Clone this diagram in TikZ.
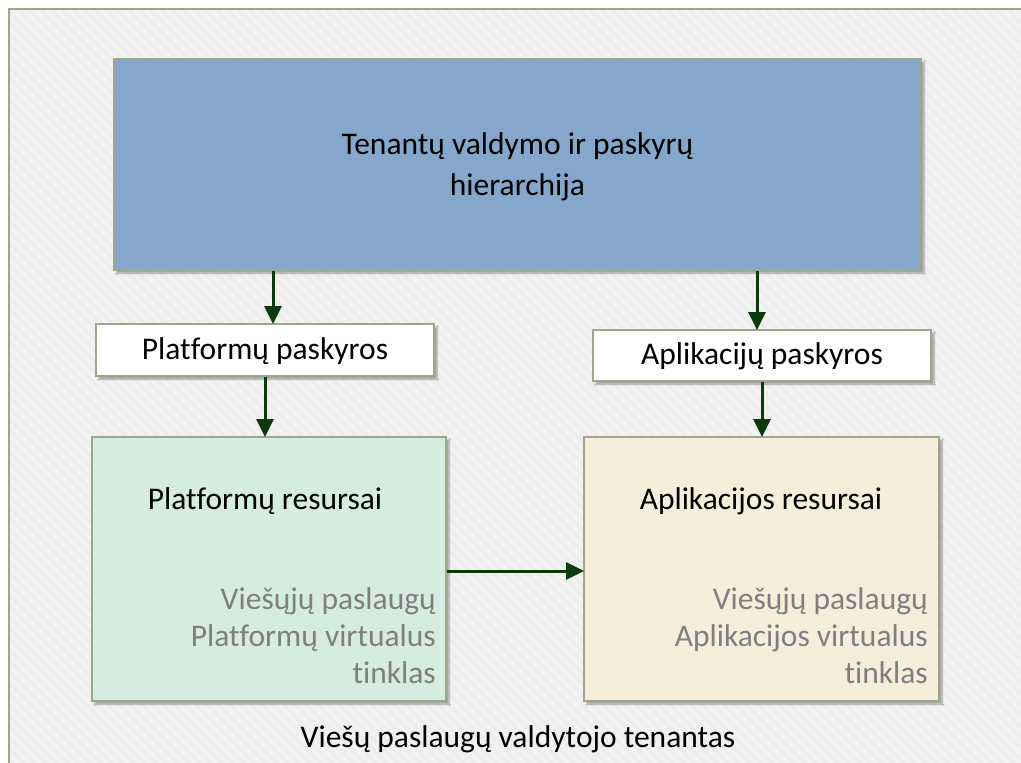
\documentclass[tikz,border=0pt]{standalone}
\usepackage{fontspec}
\setmainfont{Carlito}[Ligatures={NoCommon}]
\usetikzlibrary{arrows.meta,shadows.blur}

\definecolor{frameline}{HTML}{9EA78A}
\definecolor{pagebg}{HTML}{EDEDED}
\definecolor{stripe}{HTML}{F2F2F2}
\definecolor{bluefill}{HTML}{85A7CB}
\definecolor{greenfill}{HTML}{D5ECE1}
\definecolor{creamfill}{HTML}{F6EEDA}
\definecolor{arrowgreen}{HTML}{0B3B0B}
\definecolor{softgray}{HTML}{7F7F7F}

\tikzset{
  panel/.style={draw=frameline, line width=2pt, rectangle,
    blur shadow={shadow xshift=3pt, shadow yshift=-3pt,
      shadow blur steps=6, shadow opacity=35}},
  label text/.style={font=\fontsize{31.5}{38}\selectfont, text=black, inner sep=0pt},
  note text/.style={font=\fontsize{31.5}{37}\selectfont, text=softgray,
    align=right, inner sep=0pt, anchor=north east},
  flow/.style={draw=arrowgreen, line width=3pt,
    -{Triangle[length=18pt,width=17pt]}, shorten >=-1pt},
}

\begin{document}
\begin{tikzpicture}[x=1pt,y=-1pt]
  \useasboundingbox (0,0) rectangle (1021,763);
  \clip (0,0) rectangle (1021,763);

  % tenant frame running off the page, with its faint diagonal texture
  \fill[white] (0,0) rectangle (1021,763);
  \fill[pagebg] (9,9) rectangle (1040,790);
  \begin{scope}
    \clip (9,9) rectangle (1040,790);
    \foreach \k in {-800,-789,...,1040}
      \draw[stripe, line width=4pt] (\k,0) -- (\k+800,800);
  \end{scope}
  \draw[draw=frameline, line width=2pt] (9,9) rectangle (1040,790);

  % boxes
  \node[panel, fill=bluefill, minimum width=807pt, minimum height=211pt]
    (hier) at (517.5,164.5) {};
  \node[label text, align=center, font=\fontsize{31.5}{41}\selectfont]
    (hiertext) at (517.5,166.5) {Tenantų valdymo ir paskyrų\\hierarchija};

  \node[panel, fill=white, minimum width=338pt, minimum height=52pt]
    (platacc) at (265,350) {};
  \node[label text] (platacctext) at (265,351) {Platformų paskyros};

  \node[panel, fill=white, minimum width=338pt, minimum height=51pt]
    (appacc) at (762,355.5) {};
  \node[label text] (appacctext) at (762,356) {Aplikacijų paskyros};

  \node[panel, fill=greenfill, minimum width=354pt, minimum height=264pt]
    (platres) at (269,569) {};
  \node[label text] (platrestitle) at (265,501) {Platformų resursai};
  \node[note text] (platresnote) at (436,587)
    {Viešųjų paslaugų\\Platformų virtualus\\tinklas};

  \node[panel, fill=creamfill, minimum width=355pt, minimum height=264pt]
    (appres) at (761.5,569) {};
  \node[label text] (apprestitle) at (761,501) {Aplikacijos resursai};
  \node[note text] (appresnote) at (928,587)
    {Viešųjų paslaugų\\Aplikacijos virtualus\\tinklas};

  \node[label text] (tenant) at (518,739) {Viešų paslaugų valdytojo tenantas};

  % connectors
  \draw[flow] (hier.south -| 273,0) -- (platacc.north -| 273,0);
  \draw[flow] (platacc.south -| 265,0) -- (platres.north -| 265,0);
  \draw[flow] (hier.south -| 757,0) -- (appacc.north -| 757,0);
  \draw[flow] (appacc.south -| 762,0) -- (appres.north -| 762,0);
  \draw[flow] (platres.east |- 0,571) -- (appres.west |- 0,571);
\end{tikzpicture}
\end{document}
